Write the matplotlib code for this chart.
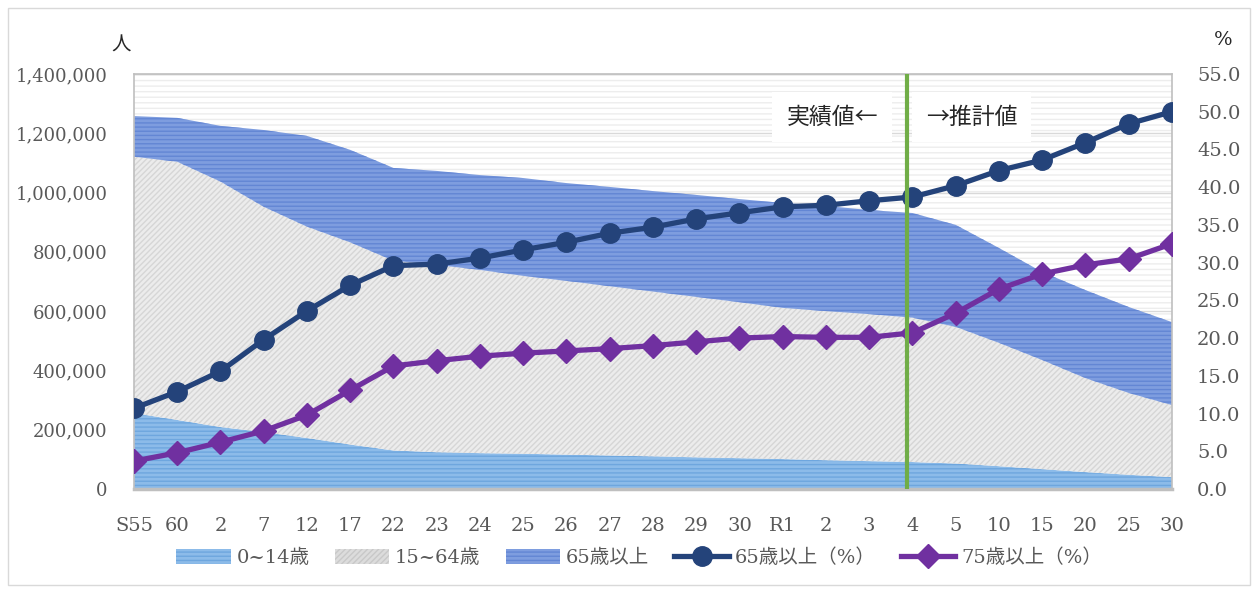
import numpy as np
import matplotlib
matplotlib.use("Agg")
import matplotlib.pyplot as plt
from matplotlib.patches import Rectangle, Patch
from matplotlib.lines import Line2D
from matplotlib.ticker import FuncFormatter, MultipleLocator

plt.rcParams['font.family'] = ['DejaVu Serif', 'Noto Sans CJK JP']
plt.rcParams['hatch.linewidth'] = 1.0

labels = ['S55', '60', '2', '7', '12', '17', '22', '23', '24', '25', '26', '27', '28',
          '29', '30', 'R1', '2', '3', '4', '5', '10', '15', '20', '25', '30']

pop_0_14 = [256000, 233000, 209000, 192000, 172000, 150000, 130000, 124000, 121000,
            119000, 116000, 113000, 110000, 107000, 104000, 101000, 97000, 94000,
            91000, 86000, 77000, 67000, 57000, 48000, 40000]
pop_15_64 = [865000, 871000, 828000, 760000, 713000, 682000, 640000, 632000, 618000,
             600000, 586000, 571000, 556000, 541000, 526000, 510000, 503000, 496000,
             487000, 461000, 416000, 368000, 317000, 276000, 243000]
pop_65 = [137000, 148000, 188000, 259000, 306000, 312000, 313000, 317000, 320000,
          330000, 330000, 335000, 339000, 344000, 348000, 354000, 355000, 351000,
          353000, 344000, 320000, 297000, 297000, 290000, 280000]

pct_65 = [10.7, 12.9, 15.6, 19.8, 23.6, 27.0, 29.6, 29.8, 30.6, 31.7, 32.7, 33.9, 34.7,
          35.8, 36.6, 37.4, 37.6, 38.2, 38.7, 40.2, 42.2, 43.6, 45.9, 48.4, 50.0]
pct_75 = [3.7, 4.8, 6.2, 7.7, 9.8, 13.1, 16.3, 17.0, 17.6, 18.0, 18.3, 18.6, 19.0,
          19.5, 20.0, 20.2, 20.1, 20.1, 20.7, 23.3, 26.5, 28.5, 29.7, 30.5, 32.5]

split_index = 18  # "4" : boundary between actual and projection

x = np.arange(len(labels))
c1 = np.array(pop_0_14)
c2 = c1 + np.array(pop_15_64)
c3 = c2 + np.array(pop_65)

fig = plt.figure(figsize=(12.58, 5.9), dpi=100)
fig.patches.append(Rectangle((0.006, 0.008), 0.988, 0.978, transform=fig.transFigure,
                             fill=False, edgecolor='#D9D9D9', linewidth=1))
ax = fig.add_axes([0.1065, 0.1712, 0.8251, 0.7034])

# plot area texture
ax.add_patch(Rectangle((0, 0), 1, 1, transform=ax.transAxes, facecolor='white',
                       edgecolor='#EDEDED', hatch='---', linewidth=0, zorder=0))

blue_light = '#8CBBE9'
gray_fill = '#ECECEC'
blue_65 = '#7E9DDF'
ax.fill_between(x, 0, c1, facecolor=blue_light, edgecolor='#6EA6DE', hatch='----',
                linewidth=0, zorder=1)
ax.fill_between(x, c1, c2, facecolor=gray_fill, edgecolor='#D6D6D6', hatch='//////',
                linewidth=0, zorder=1)
ax.fill_between(x, c2, c3, facecolor=blue_65, edgecolor='#6386D4', hatch='----',
                linewidth=0, zorder=1)

ax.set_xlim(0, len(labels) - 1)
ax.set_ylim(0, 1400000)
ax.yaxis.set_major_locator(MultipleLocator(200000))
ax.yaxis.set_major_formatter(FuncFormatter(lambda v, p: f"{int(v):,}"))
for yv in range(200000, 1400001, 200000):
    ax.axhline(yv, color='#D9D9D9', linewidth=1, zorder=0.5)
ax.set_xticks(x)
ax.set_xticklabels(labels)
ax.tick_params(axis='x', length=0, pad=20, labelsize=14, labelcolor='#595959')
ax.tick_params(axis='y', length=0, pad=19, labelsize=13, labelcolor='#595959')
for s in ax.spines.values():
    s.set_color('#BFBFBF')
    s.set_linewidth(1.2)
ax.spines['bottom'].set_linewidth(2.5)

ax2 = ax.twinx()
ax2.set_ylim(0, 55)
ax2.yaxis.set_major_locator(MultipleLocator(5))
ax2.yaxis.set_major_formatter(FuncFormatter(lambda v, p: f"{v:.1f}"))
ax2.tick_params(axis='y', length=0, pad=18, labelsize=14, labelcolor='#595959')
for s in ax2.spines.values():
    s.set_visible(False)

navy = '#24437A'
purple = '#7030A0'
ax2.plot(x, pct_65, color=navy, linewidth=3.8, marker='o', markersize=14, zorder=4)
ax2.plot(x, pct_75, color=purple, linewidth=3.8, marker='D', markersize=12, zorder=4)
ax2.axvline(split_index - 0.12, color='#70AD47', linewidth=3, zorder=5)

ax2.text(split_index - 0.8, 49.3, '実績値←', ha='right', va='center', fontsize=16.5,
         family=['Noto Sans CJK JP', 'DejaVu Sans'], color='#262626', zorder=6,
         bbox=dict(facecolor='white', edgecolor='none', pad=10))
ax2.text(split_index + 0.31, 49.3, '→推計値', ha='left', va='center', fontsize=16.5,
         family=['Noto Sans CJK JP', 'DejaVu Sans'], color='#262626', zorder=6,
         bbox=dict(facecolor='white', edgecolor='none', pad=10))

fig.text(0.096, 0.922, '人', fontsize=14, ha='center', va='center', color='#262626')
fig.text(0.972, 0.932, '%', fontsize=14, ha='center', va='center', color='#262626')

handles = [
    Patch(facecolor=blue_light, edgecolor='#6EA6DE', hatch='----', linewidth=0),
    Patch(facecolor='#DCDCDC', edgecolor='#C8C8C8', hatch='//////', linewidth=0),
    Patch(facecolor=blue_65, edgecolor='#6386D4', hatch='----', linewidth=0),
    Line2D([], [], color=navy, linewidth=3.8, marker='o', markersize=14),
    Line2D([], [], color=purple, linewidth=3.8, marker='D', markersize=12),
]
names = ['0~14歳', '15~64歳', '65歳以上', '65歳以上（%）', '75歳以上（%）']
leg = fig.legend(handles, names, loc='center', bbox_to_anchor=(0.508, 0.054), ncol=5,
                 frameon=False, fontsize=14, handlelength=2.8, handleheight=0.8,
                 columnspacing=1.3, handletextpad=0.3)
for t in leg.get_texts():
    t.set_color('#595959')

fig.savefig('out.png', dpi=100)
